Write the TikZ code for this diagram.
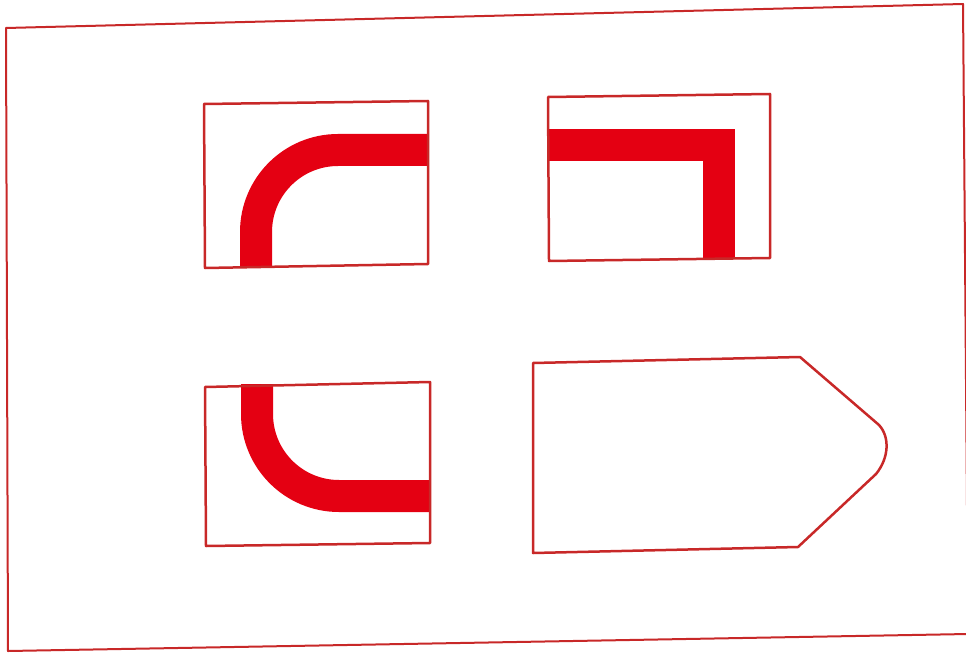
\documentclass[tikz,border=0pt]{standalone}
\usepackage{tikz}
\definecolor{framered}{RGB}{200,40,40}
\definecolor{bandred}{RGB}{228,0,18}
\begin{document}
\begin{tikzpicture}[
    x=0.2mm, y=-0.2mm,
    frame/.style={draw=framered, line width=0.5mm, line join=round},
    band/.style={draw=bandred, line width=6.4mm, line join=miter}
  ]
  \useasboundingbox (0,0) rectangle (966,655);
  % outer sheet
  \draw[frame, line width=0.4mm] (6,28) -- (963,4) -- (968,634) -- (8,651) -- cycle;
  % top left: curved bend
  \draw[band] (256,266) -- (256,232) arc (180:270:82) -- (428,150);
  \draw[frame] (204,104) -- (428,101) -- (428,264) -- (205,268) -- cycle;
  % top right: square corner
  \draw[band] (548,145) -- (719,145) -- (719,258);
  \draw[frame] (548,97) -- (770,94) -- (770,258) -- (549,261) -- cycle;
  % bottom left: curved bend
  \draw[band] (257,384) -- (257,414) arc (180:90:82) -- (430,496);
  \draw[frame] (205,387) -- (430,382) -- (430,543) -- (206,546) -- cycle;
  % bottom right: pointed tag
  \draw[frame] (533,363) -- (800,357) -- (879,425)
    .. controls (890,437) and (889,458) .. (876,474) -- (798,547) -- (533,553) -- cycle;
\end{tikzpicture}
\end{document}
